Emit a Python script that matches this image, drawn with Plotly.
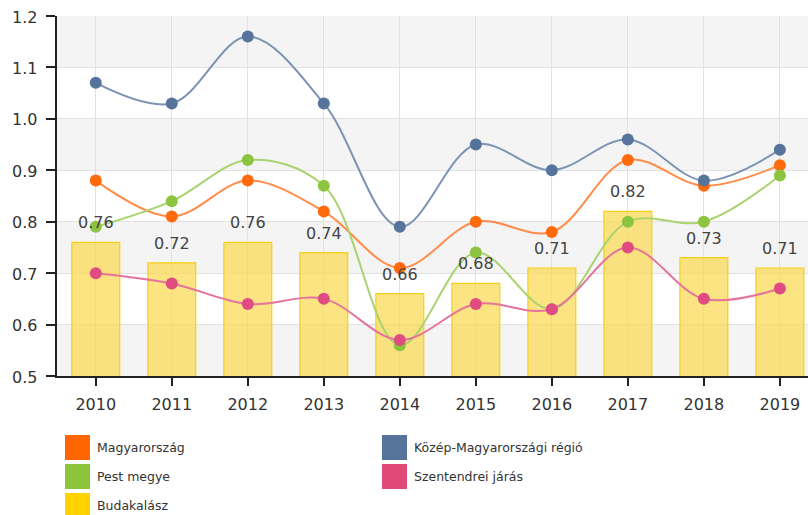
import plotly.graph_objects as go

years = ["2010", "2011", "2012", "2013", "2014", "2015", "2016", "2017", "2018", "2019"]

magyarorszag = [0.88, 0.81, 0.88, 0.82, 0.71, 0.80, 0.78, 0.92, 0.87, 0.91]
kozep_regio = [1.07, 1.03, 1.16, 1.03, 0.79, 0.95, 0.90, 0.96, 0.88, 0.94]
pest_megye = [0.79, 0.84, 0.92, 0.87, 0.56, 0.74, 0.63, 0.80, 0.80, 0.89]
szentendrei = [0.70, 0.68, 0.64, 0.65, 0.57, 0.64, 0.63, 0.75, 0.65, 0.67]
budakalasz = [0.76, 0.72, 0.76, 0.74, 0.66, 0.68, 0.71, 0.82, 0.73, 0.71]

y_ticks = [0.5, 0.6, 0.7, 0.8, 0.9, 1.0, 1.1, 1.2]

W, H = 808, 515
ML, MT, MB = 57, 16, 139
PW, PH = W - ML, H - MT - MB

FONT = "DejaVu Sans"

line_series = [
    ("Magyarország", magyarorszag, "#ff6a0d", "#ff8c4a"),
    ("Közép-Magyarországi régió", kozep_regio, "#56739c", "#7d93b2"),
    ("Pest megye", pest_megye, "#8dc43f", "#a9d36e"),
    ("Szentendrei járás", szentendrei, "#e04b82", "#e6739d"),
]

fig = go.Figure()

# Budakalász columns
fig.add_trace(go.Bar(
    x=years, y=budakalasz, base=0, name="Budakalász",
    width=0.63,
    marker=dict(color="rgba(250,218,80,0.72)",
                line=dict(color="#f5cf1c", width=1.2)),
    showlegend=False, hoverinfo="x+y",
))

for name, vals, mcol, lcol in line_series:
    fig.add_trace(go.Scatter(
        x=years, y=vals, name=name, mode="lines+markers",
        line=dict(color=lcol, width=2, shape="spline", smoothing=1),
        marker=dict(color=mcol, size=12),
        showlegend=False,
    ))

# value labels above the columns (category index as x position)
for i, v in enumerate(budakalasz):
    fig.add_annotation(
        x=i, y=v, xref="x", yref="y", text=f"{v:.2f}",
        showarrow=False, yanchor="bottom", yshift=8,
        font=dict(family=FONT, size=16, color="#444444"),
    )

# y-axis labels placed next to the outside ticks
for v in y_ticks:
    fig.add_annotation(
        x=0, y=v, xref="paper", yref="y", text=f"{v:.1f}",
        showarrow=False, xanchor="right", yanchor="middle",
        xshift=-18, yshift=-1,
        font=dict(family=FONT, size=16, color="#333333"),
    )

# alternating horizontal bands
shapes = []
for i, lo in enumerate(y_ticks[:-1]):
    if i % 2 == 0:
        shapes.append(dict(
            type="rect", xref="paper", yref="y", x0=0, x1=1,
            y0=lo, y1=y_ticks[i + 1], fillcolor="#f4f4f4",
            line=dict(width=0), layer="below",
        ))


def px_x(px):
    return (px - ML) / PW


def px_y(py):
    return (H - MB - py) / PH


# legend drawn as squares + labels under the plot
legend_items = [
    ("Magyarország", "#ff6600", 65, 435),
    ("Pest megye", "#8cc43c", 65, 464),
    ("Budakalász", "#ffd200", 65, 493),
    ("Közép-Magyarországi régió", "#56739c", 382, 435),
    ("Szentendrei járás", "#e04a78", 382, 464),
]
for label, col, lx, ly in legend_items:
    shapes.append(dict(
        type="rect", xref="paper", yref="paper",
        x0=px_x(lx), x1=px_x(lx + 25), y0=px_y(ly + 25), y1=px_y(ly),
        fillcolor=col, line=dict(width=0),
    ))
    fig.add_annotation(
        x=px_x(lx + 30), y=px_y(ly + 12.5), xref="paper", yref="paper",
        text=label, showarrow=False, xanchor="left", yanchor="middle",
        font=dict(family=FONT, size=12.5, color="#333333"),
    )

fig.update_layout(
    width=W, height=H,
    margin=dict(l=ML, r=0, t=MT, b=MB, pad=0),
    paper_bgcolor="white", plot_bgcolor="white",
    shapes=shapes,
    showlegend=False,
    xaxis=dict(
        type="category", range=[-0.51, 9.37],
        showgrid=True, gridcolor="#e2e2e2", gridwidth=1,
        showline=True, linecolor="#222222", linewidth=2,
        ticks="outside", ticklen=8, tickcolor="#222222", tickwidth=1.5,
        ticklabelstandoff=5,
        tickfont=dict(family=FONT, size=16, color="#333333"),
        fixedrange=True,
    ),
    yaxis=dict(
        range=[0.5, 1.2], tickvals=y_ticks,
        showticklabels=False,
        showgrid=True, gridcolor="#e2e2e2", gridwidth=1,
        showline=True, linecolor="#222222", linewidth=2,
        ticks="outside", ticklen=9, tickcolor="#222222", tickwidth=1.5,
        zeroline=False, fixedrange=True,
    ),
)

fig.write_html("out.html")
